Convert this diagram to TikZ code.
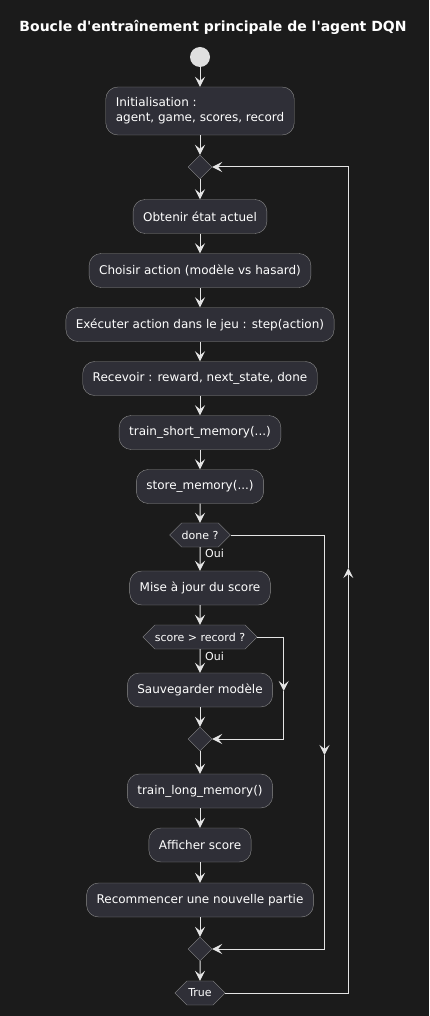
\documentclass[tikz,border=0pt]{standalone}
\usepackage{fontspec}
\setmainfont{DejaVu Sans}
\usetikzlibrary{arrows.meta,shapes.geometric,shapes.symbols}
\definecolor{hintergrund}{HTML}{1B1B1B}
\definecolor{kasten}{HTML}{2F2F37}
\definecolor{rand}{HTML}{8C8C8C}
\definecolor{linie}{HTML}{E4E4E4}
\tikzset{
	aktion/.style={draw=rand, fill=kasten, rounded corners=12pt, minimum height=34pt, inner xsep=10pt, text=white, font=\fontsize{12}{15}\selectfont},
	frage/.style={signal, signal to=east and west, signal pointer angle=90, draw=rand, fill=kasten, minimum height=24pt, inner xsep=0pt, inner ysep=0pt, text=white, font=\fontsize{11}{13}\selectfont},
	raute/.style={diamond, draw=rand, fill=kasten, minimum width=24pt, minimum height=24pt, inner sep=0pt},
	pfeil/.style={draw=linie, line width=1pt, -{Stealth[length=10pt,width=10pt,inset=4pt]}},
	marke/.style={text=white, font=\fontsize{11}{13}\selectfont, inner sep=0pt, anchor=west}
}
\begin{document}
\begin{tikzpicture}[x=1pt, y=-1pt]
	\fill[hintergrund](0, 0) rectangle (429, 1016);%Hintergrund
	\useasboundingbox(0, 0) rectangle (429, 1016);
	\node[text=white, font=\bfseries\fontsize{14}{16}\selectfont] (titel) at (213, 27) {Boucle d\textquotesingle entraînement principale de l\textquotesingle agent DQN};
	\node[circle, fill=linie!95!gray, minimum size=20pt, inner sep=0pt] (start) at (200, 57) {};
	\node[aktion, align=left, minimum height=48pt] (init) at (200, 111) {Initialisation :\\agent, game, scores, record};
	\node[raute] (m1) at (200, 167) {};%Schleife oben
	\node[aktion] (etat) at (200, 216.5) {Obtenir état actuel};
	\node[aktion] (choix) at (200, 270.5) {Choisir action (modèle vs hasard)};
	\node[aktion] (exec) at (200, 324.5) {Exécuter action dans le jeu : step(action)};
	\node[aktion] (recv) at (200, 378.5) {Recevoir : reward, next\_state, done};
	\node[aktion] (short) at (200, 432.5) {train\_short\_memory(...)};
	\node[aktion] (store) at (200, 486.5) {store\_memory(...)};
	\node[frage] (done) at (200, 535) {done ?};
	\node[marke] (oui1) at (205, 553) {Oui};
	\node[aktion] (maj) at (200, 588) {Mise à jour du score};
	\node[frage] (rekord) at (200, 637) {score > record ?};
	\node[marke] (oui2) at (205, 656) {Oui};
	\node[aktion] (save) at (200, 690) {Sauvegarder modèle};
	\node[raute] (m2) at (200, 739) {};
	\node[aktion] (long) at (200, 791) {train\_long\_memory()};
	\node[aktion] (aff) at (200, 845) {Afficher score};
	\node[aktion] (neu) at (200, 900) {Recommencer une nouvelle partie};
	\node[raute] (m3) at (200, 949) {};
	\node[frage, inner xsep=1.5pt] (wahr) at (200, 993) {True};
	\coordinate (k1) at (283.7, 691);%Pfeil rechts klein
	\coordinate (k2) at (324.5, 755);%Pfeil rechts mitte
	\coordinate (k3) at (348.3, 568);%Rueckweg
	\draw[pfeil](start) -- (init);
	\draw[pfeil](init) -- (m1);
	\draw[pfeil](m1) -- (etat);
	\draw[pfeil](etat) -- (choix);
	\draw[pfeil](choix) -- (exec);
	\draw[pfeil](exec) -- (recv);
	\draw[pfeil](recv) -- (short);
	\draw[pfeil](short) -- (store);
	\draw[pfeil](store) -- (done);
	\draw[pfeil](done) -- (maj);
	\draw[pfeil](maj) -- (rekord);
	\draw[pfeil](rekord) -- (save);
	\draw[pfeil](save) -- (m2);
	\draw[pfeil](m2) -- (long);
	\draw[pfeil](long) -- (aff);
	\draw[pfeil](aff) -- (neu);
	\draw[pfeil](neu) -- (m3);
	\draw[pfeil](m3) -- (wahr);
	\draw[pfeil](rekord.east) -| (k1);\draw[pfeil](k1) |- (m2.east);
	\draw[pfeil](done.east) -| (k2);\draw[pfeil](k2) |- (m3.east);
	\draw[pfeil](wahr.east) -| (k3);\draw[pfeil](k3) |- (m1.east);
\end{tikzpicture}
\end{document}
